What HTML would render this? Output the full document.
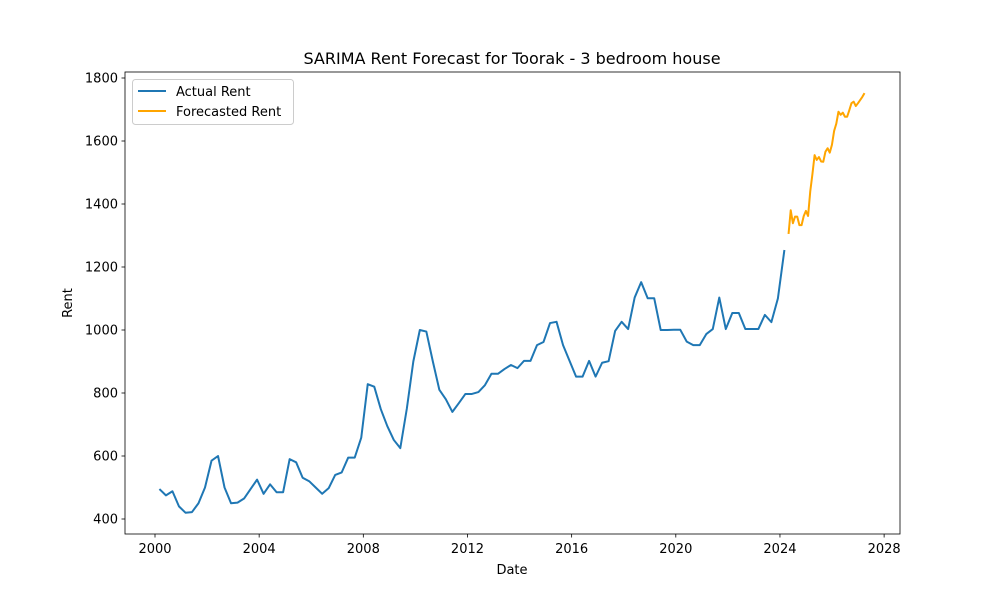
<!DOCTYPE html>
<html><head><meta charset="utf-8"><style>
body{margin:0;background:#fff;font-family:"Liberation Sans","DejaVu Sans",sans-serif;}
svg text{font-family:"DejaVu Sans","Liberation Sans",sans-serif;fill:#000;}
</style></head><body>
<svg id="chart" width="1000" height="600" xmlns="http://www.w3.org/2000/svg">
<rect width="1000" height="600" fill="#fff"/>
<g id="plot"></g>
</svg>
<script>
const actualStart = 2000.17;
const actualStep = 0.25;
const actualValues = [495,475,488,440,420,422,450,500,585,600,500,450,452,465,495,525,480,510,485,485,590,580,531,520,500,480,498,540,548,595,595,658,828,820,749,695,651,625,750,900,1000,995,900,810,780,740,768,797,797,803,825,861,861,876,889,879,902,902,952,962,1022,1026,952,902,852,852,902,852,896,901,997,1026,1003,1103,1152,1101,1101,1000,1000,1001,1001,963,952,952,987,1003,1103,1003,1054,1054,1003,1003,1003,1048,1025,1100,1254];
const forecastStart = 2024.33;
const forecastStep = 1/12;
const forecastValues = [1305,1380,1339,1360,1360,1333,1333,1362,1378,1362,1440,1495,1555,1540,1549,1535,1534,1566,1577,1563,1588,1632,1655,1693,1683,1690,1677,1677,1698,1720,1725,1711,1720,1730,1740,1752];
const xTicks = [2000,2004,2008,2012,2016,2020,2024,2028];
const yTicks = [400,600,800,1000,1200,1400,1600,1800];

const L=125,R=900,T=72,B=534;
const xS = v => 155 + (v-2000)*26.04;
const yS = v => 519 - (v-400)*0.315;
const NS="http://www.w3.org/2000/svg";
const g=document.getElementById('plot');
function mk(tag,attrs,parent){const e=document.createElementNS(NS,tag);for(const k in attrs)e.setAttribute(k,attrs[k]);(parent||g).appendChild(e);return e;}

const frame=mk('rect',{x:L,y:T,width:R-L,height:B-T,fill:'none',stroke:'#000','stroke-width':0.8});



xTicks.forEach(t=>{
  const x=xS(t);
  const tk=mk('line',{x1:x,x2:x,y1:B,y2:B+3.5,stroke:'#000','stroke-width':0.8});
  
  
  const tx=mk('text',{x:x,y:B+19,'text-anchor':'middle','font-size':'13'});
  tx.textContent=t;
  
  
});
yTicks.forEach(t=>{
  const y=yS(t);
  const tk=mk('line',{x1:L-3.5,x2:L,y1:y,y2:y,stroke:'#000','stroke-width':0.8});
  
  
  const tx=mk('text',{x:L-7,y:y+4.5,'text-anchor':'end','font-size':'13'});
  tx.textContent=t;
  
  
});

function line(start,step,vals,color,name){
  const pts=vals.map((v,i)=>xS(start+i*step).toFixed(2)+','+yS(v).toFixed(2)).join(' ');
  const p=mk('polyline',{points:pts,fill:'none',stroke:color,'stroke-width':2,'stroke-linejoin':'round'});
  
  
}
line(actualStart,actualStep,actualValues,'#1f77b4','actual-rent-line');
line(forecastStart,forecastStep,forecastValues,'#ffa500','forecasted-rent-line');

const title=mk('text',{x:512,y:64,'text-anchor':'middle','font-size':'16'});
title.textContent='SARIMA Rent Forecast for Toorak - 3 bedroom house';


const xl=mk('text',{x:512,y:574,'text-anchor':'middle','font-size':'13'});
xl.textContent='Date';


const yl=mk('text',{x:72,y:303,'text-anchor':'middle','font-size':'13',transform:'rotate(-90 72 303)'});
yl.textContent='Rent';



const lg=mk('g',{});


mk('rect',{x:132.5,y:79.5,width:161,height:45,rx:3,fill:'#fff',stroke:'#ccc','stroke-width':1},lg);
mk('line',{x1:138,x2:166,y1:91,y2:91,stroke:'#1f77b4','stroke-width':2},lg);
const l1=mk('text',{x:176,y:96,'font-size':'13'},lg);
l1.textContent='Actual Rent';


mk('line',{x1:138,x2:166,y1:111,y2:111,stroke:'#ffa500','stroke-width':2},lg);
const l2=mk('text',{x:176,y:116,'font-size':'13'},lg);
l2.textContent='Forecasted Rent';


</script>
</body></html>
